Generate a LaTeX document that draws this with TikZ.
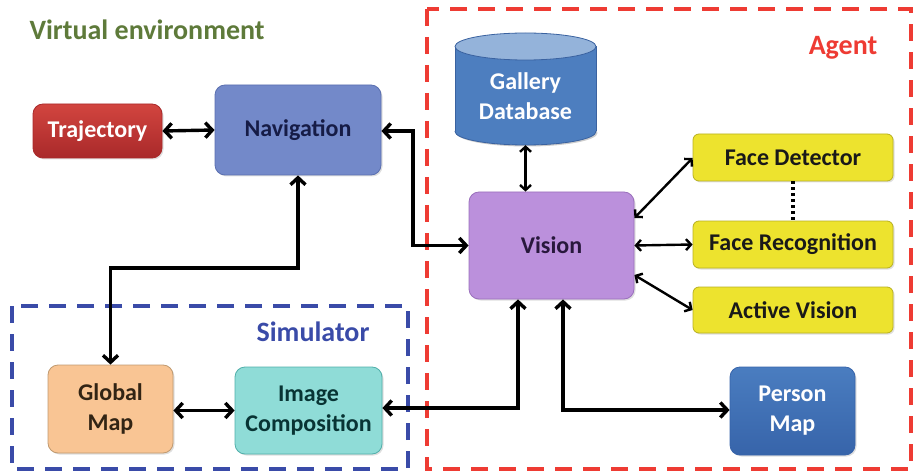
\documentclass[tikz,border=0pt]{standalone}
\usepackage{fontspec}
\setmainfont{Carlito}
\usetikzlibrary{arrows.meta,shadows}
\definecolor{trajTop}{HTML}{D2453F}
\definecolor{trajBot}{HTML}{A9292A}
\definecolor{navFill}{HTML}{7389C9}
\definecolor{navLine}{HTML}{5A6FB0}
\definecolor{galBody}{HTML}{4D7EBF}
\definecolor{galTop}{HTML}{94B3DA}
\definecolor{galLine}{HTML}{3A62A0}
\definecolor{visFill}{HTML}{BB90DC}
\definecolor{visLine}{HTML}{9A70BC}
\definecolor{faceFill}{HTML}{EDE32E}
\definecolor{faceLine}{HTML}{B8B020}
\definecolor{perTop}{HTML}{4A7DC0}
\definecolor{perBot}{HTML}{3764AA}
\definecolor{gmFill}{HTML}{F9C594}
\definecolor{gmLine}{HTML}{C09A70}
\definecolor{icFill}{HTML}{8FDCD7}
\definecolor{icLine}{HTML}{50AFAA}
\definecolor{agentRed}{HTML}{EE3B33}
\definecolor{simBlue}{HTML}{3A4BA8}
\definecolor{envGreen}{HTML}{5E7A3A}
\begin{document}
\begin{tikzpicture}[x=1pt,y=-1pt,
  lbl/.style={font=\fontsize{24}{30}\selectfont\bfseries, align=center},
  grouptitle/.style={font=\fontsize{28}{32}\selectfont\bfseries},
  blockbox/.style={lbl, rounded corners=10pt, line width=0.8pt, inner sep=0pt,
    drop shadow={opacity=0.25, shadow xshift=1.5pt, shadow yshift=-1.5pt}},
  link/.style={line width=3.4pt, {Straight Barb[length=7pt,width=15pt]}-{Straight Barb[length=7pt,width=15pt]}},
  thinlink/.style={line width=2.4pt, {Straight Barb[length=5pt,width=11pt]}-{Straight Barb[length=5pt,width=11pt]}},
  groupframe/.style={line width=3.2pt, dash pattern=on 17pt off 11pt}
]
\useasboundingbox (0,0) rectangle (915,473);

% group frames
\draw[groupframe, agentRed] (427,9) rectangle (911,469);
\draw[groupframe, simBlue] (12,306) rectangle (408,469);

% group titles
\node[grouptitle, text=envGreen, anchor=west] (envtitle) at (26,30) {Virtual environment};
\node[grouptitle, text=agentRed] (agenttitle) at (843,48) {Agent};
\node[grouptitle, text=simBlue] (simtitle) at (313,332) {Simulator};

% gallery database drum: bottom end, body, top end
\fill[black, opacity=0.2] (527,133) ellipse [x radius=70.5, y radius=13.5];
\filldraw[fill=galBody, draw=galLine, line width=0.8pt] (525.5,131.5) ellipse [x radius=70.5, y radius=13.5];
\fill[galBody] (455,46.5) rectangle (596,131.5);
\draw[galLine, line width=0.8pt] (455,46.5) -- (455,131.5) (596,46.5) -- (596,131.5);
\filldraw[fill=galTop, draw=galLine, line width=0.8pt] (525.5,46.5) ellipse [x radius=70.5, y radius=13.5];
\node[minimum width=141pt, minimum height=112pt, inner sep=0pt] (gal) at (525.5,89) {};
\node[lbl, text=white] (galtxt) at (525.5,96) {Gallery\\Database};

% blocks
\node[blockbox, draw=trajBot, top color=trajTop, bottom color=trajBot, text=white,
  minimum width=129pt, minimum height=54pt] (traj) at (97.5,131) {Trajectory};
\node[blockbox, draw=navLine, fill=navFill, text={rgb,255:red,22;green,28;blue,70},
  minimum width=166pt, minimum height=90pt] (nav) at (298,130) {Navigation};
\node[blockbox, draw=visLine, fill=visFill, text={rgb,255:red,40;green,24;blue,60},
  minimum width=165pt, minimum height=107pt] (vis) at (551.5,245.5) {Vision};
\node[blockbox, rounded corners=6pt, draw=faceLine, fill=faceFill, text=black!90,
  minimum width=200pt, minimum height=47pt] (fd) at (793,157.5) {Face Detector};
\node[blockbox, rounded corners=6pt, draw=faceLine, fill=faceFill, text=black!90,
  minimum width=200pt, minimum height=47pt] (fr) at (793,244.5) {Face Recognition};
\node[blockbox, rounded corners=6pt, draw=faceLine, fill=faceFill, text=black!90,
  minimum width=200pt, minimum height=46pt] (av) at (793,310) {Active Vision};
\node[blockbox, draw=perBot, top color=perTop, bottom color=perBot, text=white,
  minimum width=125pt, minimum height=88pt] (pm) at (792.5,411) {Person\\Map};
\node[blockbox, draw=gmLine, fill=gmFill, text={rgb,255:red,50;green,36;blue,20},
  minimum width=125pt, minimum height=88pt] (gm) at (110.5,409) {Global\\Map};
\node[blockbox, draw=icLine, fill=icFill, text={rgb,255:red,8;green,52;blue,52},
  minimum width=147pt, minimum height=87pt] (ic) at (308.5,410.5) {Image\\Composition};

% corner points of routed links
\coordinate (navR) at (413,131);
\coordinate (navB) at (297,268);
\coordinate (icR) at (518,408);
\coordinate (pmL) at (563,410);

% links
\draw[link] (traj.east) -- (nav.west);
\draw[link] (nav.east |- navR) -- (navR) -- (navR |- vis.west) -- (vis.west);
\draw[link] (nav.south) -- (nav.south |- navB) -- (gm.north |- navB) -- (gm.north);
\draw[link] (gm.east |- ic.west) -- (ic.west);
\draw[link] (ic.east |- icR) -- (icR) -- (icR |- vis.south);
\draw[link] (pmL |- vis.south) -- (pmL) -- (pmL -| pm.west);
\draw[thinlink] (gal.south) -- (vis.north -| gal.south);
\draw[thinlink] (vis.east |- 0,218) -- (fd.west |- 0,158);
\draw[thinlink] (vis.east) -- (fr.west);
\draw[thinlink] (vis.east |- 0,275) -- (fd.west |- 0,310);
\draw[line width=3.5pt, dash pattern=on 3pt off 3pt] (fd.south) -- (fr.north);
\end{tikzpicture}
\end{document}
